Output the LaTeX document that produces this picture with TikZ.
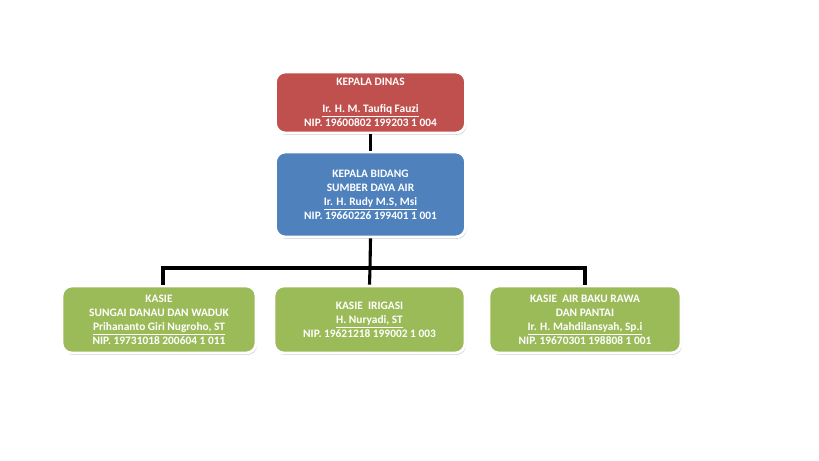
\documentclass[tikz,border=0pt]{standalone}
\usepackage{fontspec}
\setmainfont{Carlito}
\usepackage{tikz}
\usetikzlibrary{shadows}
\definecolor{HeadRed}{HTML}{C0504D}
\definecolor{MidBlue}{HTML}{4F81BD}
\definecolor{LeafGreen}{HTML}{9BBB59}
\newcommand{\officer}[1]{\smash{\underline{#1}}}
\tikzset{
  unit/.style={rounded corners=7pt, draw=white, line width=2pt, text=white,
    align=center, font=\fontsize{8.1}{10}\selectfont\bfseries, inner sep=2pt,
    drop shadow={opacity=0.35, shadow xshift=0.8pt, shadow yshift=-1.4pt}},
  headbox/.style={unit, fill=HeadRed, minimum width=4.75cm, minimum height=1.525cm},
  midbox/.style={unit, fill=MidBlue, minimum width=4.75cm, minimum height=2.125cm},
  leafbox/.style={unit, fill=LeafGreen, minimum height=1.675cm},
  link/.style={draw=black, line width=2.2pt},
}

\begin{document}
\begin{tikzpicture}[x=0.025cm, y=-0.025cm]
  \useasboundingbox (0,0) rectangle (819,460);

  % Boxes
  \node[headbox] (dinas) at (370.5,102.5) {KEPALA DINAS\\[9pt]\officer{Ir. H. M. Taufiq Fauzi}\\NIP. 19600802 199203 1 004};
  \node[midbox] (bidang) at (370.5,194.5) {KEPALA BIDANG\\SUMBER DAYA AIR\\\officer{Ir. H. Rudy M.S, Msi}\\NIP. 19660226 199401 1 001};
  \node[leafbox, minimum width=4.85cm] (sungai) at (159,319.5) {KASIE\\SUNGAI DANAU DAN WADUK\\\officer{Prihananto Giri Nugroho, ST}\\NIP. 19731018 200604 1 011};
  \node[leafbox, minimum width=4.775cm] (irigasi) at (369.5,319.5) {KASIE~~IRIGASI\\\officer{H. Nuryadi, ST}\\NIP. 19621218 199002 1 003};
  \node[leafbox, minimum width=4.8cm] (rawa) at (585,319.5) {KASIE~~AIR BAKU RAWA\\DAN PANTAI\\\officer{Ir. H. Mahdilansyah, Sp.i}\\NIP. 19670301 198808 1 001};

  % Connectors
  \coordinate (bar) at (370,268);
  \draw[link] (dinas.south) -- (bidang.north);
  \draw[link] (bidang.south) -- (bar);
  \draw[link] (bar) -| ([xshift=0.1cm]sungai.north);
  \draw[link] (bar) -| (rawa.north);
  \draw[link] (bar) -- (irigasi.north);
\end{tikzpicture}
\end{document}
